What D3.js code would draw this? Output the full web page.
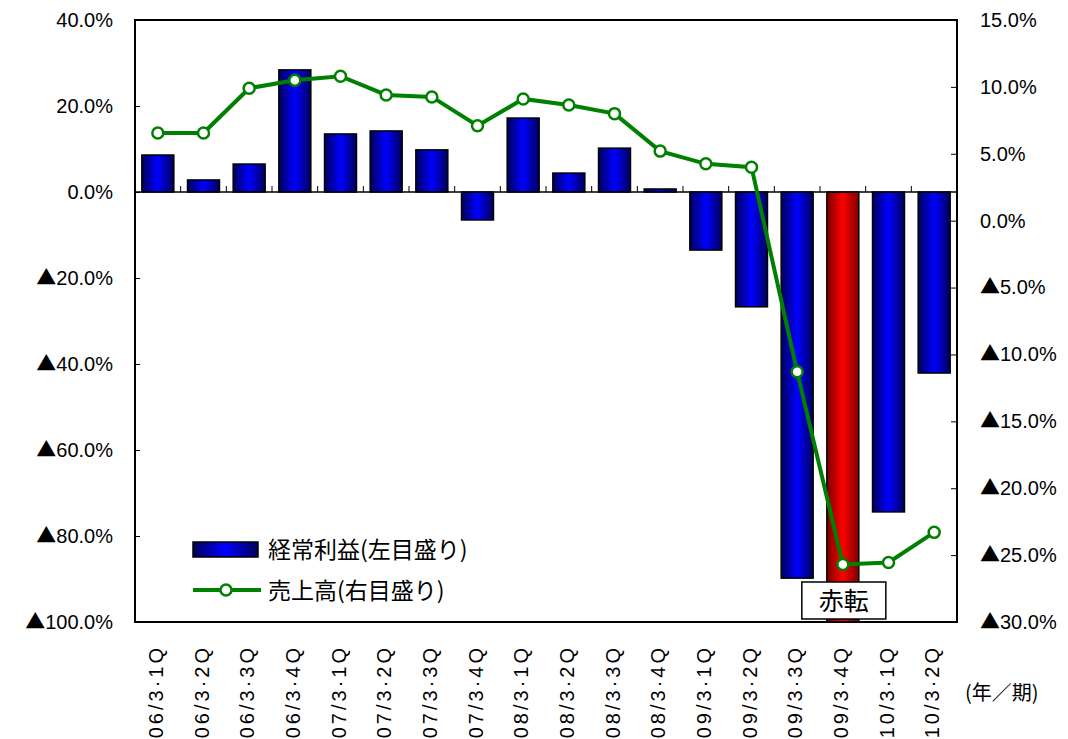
<!DOCTYPE html>
<html>
<head>
<meta charset="utf-8">
<script src="https://cdn.jsdelivr.net/npm/d3@7"></script>
<style>
  body { margin: 0; background: #fff; }
  text { font-family: "Liberation Sans", "Noto Sans CJK JP", sans-serif; fill: #000; }
</style>
</head>
<body>
<div id="chart"></div>
<script>
// quarters on the x axis
const quarters = ["06/3·1Q","06/3·2Q","06/3·3Q","06/3·4Q","07/3·1Q","07/3·2Q","07/3·3Q","07/3·4Q",
  "08/3·1Q","08/3·2Q","08/3·3Q","08/3·4Q","09/3·1Q","09/3·2Q","09/3·3Q","09/3·4Q","10/3·1Q","10/3·2Q"];
// 経常利益 growth (left axis, %)
const profit = [8.6, 2.8, 6.5, 28.4, 13.5, 14.2, 9.8, -6.5, 17.2, 4.4, 10.2, 0.7, -13.5, -26.7, -89.8, -105, -74.4, -42.1];
// 売上高 growth (right axis, %)
const sales = [6.55, 6.55, 9.9, 10.5, 10.8, 9.4, 9.25, 7.1, 9.1, 8.65, 8.0, 5.2, 4.25, 4.0, -11.3, -25.7, -25.55, -23.3];
const leftTicks = [40, 20, 0, -20, -40, -60, -80, -100];
const rightTicks = [15, 10, 5, 0, -5, -10, -15, -20, -25, -30];
const redIndex = 15; // 赤転

const svgW = 1068, svgH = 739;
const margin = {top: 20, right: 111, bottom: 117, left: 135};
const width = svgW - margin.left - margin.right;
const height = svgH - margin.top - margin.bottom;
const FONT = "'Liberation Sans','Noto Sans CJK JP',sans-serif";
const CJK = "'Noto Sans CJK JP',sans-serif";

const svg = d3.select("#chart").append("svg")
  .attr("width", svgW).attr("height", svgH);

const defs = svg.append("defs");
function grad(id, edge, mid) {
  const g = defs.append("linearGradient").attr("id", id)
    .attr("x1", "0%").attr("x2", "100%").attr("y1", "0%").attr("y2", "0%");
  g.append("stop").attr("offset", "0%").attr("stop-color", edge);
  g.append("stop").attr("offset", "50%").attr("stop-color", mid);
  g.append("stop").attr("offset", "100%").attr("stop-color", edge);
}
grad("blueGrad", "#00005a", "#0000ff");
grad("redGrad", "#7a0000", "#ff0000");
defs.append("clipPath").attr("id", "plotClip")
  .append("rect").attr("width", width).attr("height", height);

const g = svg.append("g").attr("transform", `translate(${margin.left},${margin.top})`);

const x = d3.scaleBand().domain(quarters).range([0, width]).paddingInner(0.3).paddingOuter(0.15);
const yL = d3.scaleLinear().domain([-100, 40]).range([height, 0]);
const yR = d3.scaleLinear().domain([-30, 15]).range([height, 0]);

// bars
g.append("g").attr("clip-path", "url(#plotClip)")
  .selectAll("rect").data(profit).join("rect")
  .attr("x", (d, i) => x(quarters[i]))
  .attr("width", x.bandwidth())
  .attr("y", d => yL(Math.max(0, d)))
  .attr("height", d => Math.abs(yL(d) - yL(0)))
  .attr("fill", (d, i) => i === redIndex ? "url(#redGrad)" : "url(#blueGrad)")
  .attr("stroke", "#000").attr("stroke-width", 1.5);

// zero line with small ticks between categories
g.append("line").attr("x1", 0).attr("x2", width)
  .attr("y1", yL(0)).attr("y2", yL(0)).attr("stroke", "#000").attr("stroke-width", 1.5);
const step = width / quarters.length;
g.append("g").selectAll("line").data(d3.range(1, quarters.length)).join("line")
  .attr("x1", d => d * step).attr("x2", d => d * step)
  .attr("y1", yL(0)).attr("y2", yL(0) - 6)
  .attr("stroke", "#000").attr("stroke-width", 1);

// frame
g.append("rect").attr("width", width).attr("height", height)
  .attr("fill", "none").attr("stroke", "#000").attr("stroke-width", 2);

// ▲ for negatives, in a CJK font so it's full width
function pctLabel(sel) {
  sel.each(function(v) {
    const t = d3.select(this).text("");
    if (v < 0) t.append("tspan").style("font-family", CJK).text("▲");
    t.append("tspan").text(Math.abs(v).toFixed(1) + "%");
  });
}

// left axis
const axL = g.append("g").call(d3.axisLeft(yL).tickValues(leftTicks).tickSize(-5).tickPadding(22));
axL.attr("font-size", 20).attr("font-family", null);
axL.select(".domain").remove();
axL.selectAll("line").attr("stroke", "#000");
axL.selectAll("text").style("font-family", FONT).call(pctLabel);

// right axis
const axR = g.append("g").attr("transform", `translate(${width},0)`)
  .call(d3.axisRight(yR).tickValues(rightTicks).tickSize(-6).tickPadding(23));
axR.attr("font-size", 20).attr("font-family", null);
axR.select(".domain").remove();
axR.selectAll("line").attr("stroke", "#000");
axR.selectAll("text").style("font-family", FONT).call(pctLabel);

// x labels (rotated)
g.append("g").selectAll("text").data(quarters).join("text")
  .attr("transform", d => `translate(${x(d) + x.bandwidth() / 2 + 5},${height + 23}) rotate(-90)`)
  .attr("text-anchor", "end")
  .attr("font-size", 20)
  .attr("letter-spacing", 3)
  .text(d => d);

g.append("text").attr("x", width + 8).attr("y", height + 78)
  .attr("font-size", 20).style("font-family", CJK).text("(年／期)");

// sales line
const line = d3.line().x((d, i) => x(quarters[i]) + x.bandwidth() / 2).y(d => yR(d));
g.append("path").datum(sales).attr("d", line)
  .attr("fill", "none").attr("stroke", "#008000").attr("stroke-width", 4);
g.append("g").selectAll("circle").data(sales).join("circle")
  .attr("cx", (d, i) => x(quarters[i]) + x.bandwidth() / 2)
  .attr("cy", d => yR(d)).attr("r", 5.5)
  .attr("fill", "#fff").attr("stroke", "#008000").attr("stroke-width", 2.5);

// 赤転 label
const rx = x(quarters[redIndex]) + x.bandwidth() / 2;
g.append("rect").attr("x", rx - 41).attr("y", height - 40).attr("width", 84).attr("height", 37)
  .attr("fill", "#fff").attr("stroke", "#000").attr("stroke-width", 1.5);
g.append("text").attr("x", rx + 1).attr("y", height - 12).attr("text-anchor", "middle")
  .attr("font-size", 25).style("font-family", CJK).text("赤転");

// legend
const lg = g.append("g").attr("transform", "translate(58,522)");
lg.append("rect").attr("x", 0).attr("y", 0).attr("width", 65).attr("height", 15)
  .attr("fill", "url(#blueGrad)").attr("stroke", "#000").attr("stroke-width", 1.5);
lg.append("text").attr("x", 75).attr("y", 16).attr("font-size", 23).style("font-family", CJK).text("経常利益(左目盛り)");
lg.append("line").attr("x1", 0).attr("x2", 68).attr("y1", 48).attr("y2", 48)
  .attr("stroke", "#008000").attr("stroke-width", 4);
lg.append("circle").attr("cx", 33).attr("cy", 48).attr("r", 5.5)
  .attr("fill", "#fff").attr("stroke", "#008000").attr("stroke-width", 2.5);
lg.append("text").attr("x", 75).attr("y", 57).attr("font-size", 23).style("font-family", CJK).text("売上高(右目盛り)");
</script>
</body>
</html>
